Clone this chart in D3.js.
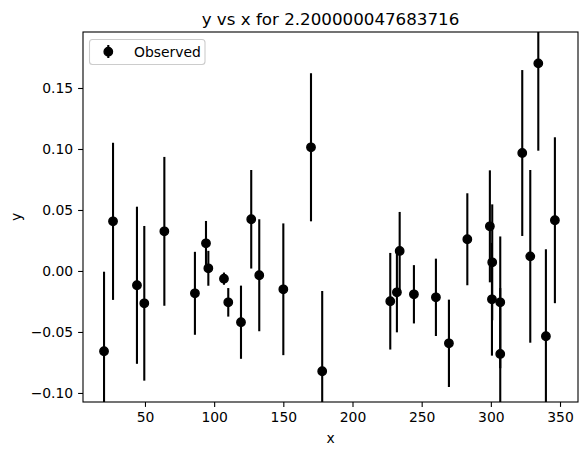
<!DOCTYPE html>
<html>
<head>
<meta charset="utf-8">
<style>
body { margin: 0; background: #fff; }
text { font-family: "DejaVu Sans", sans-serif; fill: #000; }
</style>
</head>
<body>
<script src="https://cdn.jsdelivr.net/npm/d3@7"></script>
<script>
// observed points
var xs = [20.4, 26.9, 44.2, 49.5, 64.0, 86.1, 94.1, 95.8, 107.1, 110.2, 119.4,
          126.8, 132.6, 150.0, 170.0, 178.1, 227.3, 232.1, 234.1, 244.4, 260.3,
          269.7, 283.0, 299.3, 301.0, 300.8, 306.8, 306.8, 322.7, 328.5, 334.3,
          339.8, 346.3];
var ys = [-0.0658, 0.0407, -0.0117, -0.0265, 0.0325, -0.0183, 0.0227, 0.0022,
          -0.0063, -0.0257, -0.042, 0.0424, -0.0035, -0.015, 0.1014, -0.0822,
          -0.0248, -0.0175, 0.0164, -0.0191, -0.0216, -0.0593, 0.026, 0.0366,
          0.0071, -0.0232, -0.0257, -0.068, 0.0967, 0.012, 0.1702, -0.0535, 0.0416];
var errs = [0.0652, 0.0644, 0.0644, 0.0634, 0.061, 0.034, 0.0183, 0.0143, 0.005,
            0.0117, 0.030, 0.0404, 0.0459, 0.054, 0.0607, 0.0658, 0.0396, 0.0328,
            0.032, 0.0239, 0.0317, 0.0358, 0.0377, 0.0459, 0.0475, 0.0462, 0.054,
            0.054, 0.068, 0.0708, 0.0716, 0.0713, 0.068];
var xTicks = [50, 100, 150, 200, 250, 300, 350];
var yTicks = [-0.10, -0.05, 0.00, 0.05, 0.10, 0.15];
var title = "y vs x for 2.200000047683716";

var width = 587, height = 455;
var margin = {top: 32, right: 9, bottom: 53, left: 83};

var svg = d3.select("body").append("svg")
    .attr("width", width)
    .attr("height", height);

var x = d3.scaleLinear().domain([5.2, 363]).range([margin.left, width - margin.right]);
var y = d3.scaleLinear().domain([-0.1074, 0.1959]).range([height - margin.bottom, margin.top]);

var pts = xs.map(function(d, i) { return {x: d, y: ys[i], e: errs[i]}; });

svg.append("clipPath").attr("id", "clip")
  .append("rect")
    .attr("x", margin.left).attr("y", margin.top)
    .attr("width", width - margin.left - margin.right)
    .attr("height", height - margin.top - margin.bottom);

var plot = svg.append("g").attr("clip-path", "url(#clip)");

plot.selectAll("line.err")
  .data(pts)
  .enter().append("line")
    .attr("class", "err")
    .attr("x1", function(d) { return x(d.x); })
    .attr("x2", function(d) { return x(d.x); })
    .attr("y1", function(d) { return y(d.y - d.e); })
    .attr("y2", function(d) { return y(d.y + d.e); })
    .attr("stroke", "#000")
    .attr("stroke-width", 2.1);

plot.selectAll("circle")
  .data(pts)
  .enter().append("circle")
    .attr("cx", function(d) { return x(d.x); })
    .attr("cy", function(d) { return y(d.y); })
    .attr("r", 4.2)
    .attr("fill", "#000")
    .attr("stroke", "#000")
    .attr("stroke-width", 1.4);

// axes
var xAxis = d3.axisBottom(x).tickValues(xTicks).tickSize(4.9).tickPadding(4.9)
    .tickFormat(d3.format("d"));
var yAxis = d3.axisLeft(y).tickValues(yTicks).tickSize(4.9).tickPadding(4.9)
    .tickFormat(d3.format(".2f"));

var gx = svg.append("g")
    .attr("transform", "translate(0," + (height - margin.bottom) + ")")
    .call(xAxis);
var gy = svg.append("g")
    .attr("transform", "translate(" + margin.left + ",0)")
    .call(yAxis);

[gx, gy].forEach(function(g) {
  g.select(".domain").remove();
  g.selectAll(".tick line").attr("stroke", "#000").attr("stroke-width", 1.1);
  g.selectAll(".tick text").style("font-size", "13.9px").attr("fill", "#000");
});

// frame
svg.append("rect")
    .attr("x", margin.left).attr("y", margin.top)
    .attr("width", width - margin.left - margin.right)
    .attr("height", height - margin.top - margin.bottom)
    .attr("fill", "none")
    .attr("stroke", "#000")
    .attr("stroke-width", 1.1);

svg.append("text")
    .attr("x", (margin.left + width - margin.right) / 2)
    .attr("y", 24.5)
    .attr("text-anchor", "middle")
    .style("font-size", "16.7px")
    .text(title);

svg.append("text")
    .attr("x", (margin.left + width - margin.right) / 2)
    .attr("y", 443)
    .attr("text-anchor", "middle")
    .style("font-size", "13.9px")
    .text("x");

svg.append("text")
    .attr("transform", "translate(21," + ((margin.top + height - margin.bottom) / 2) + ") rotate(-90)")
    .attr("text-anchor", "middle")
    .style("font-size", "13.9px")
    .text("y");

// legend
var legend = svg.append("g");
legend.append("rect")
    .attr("x", 89.5).attr("y", 39.5)
    .attr("width", 115.5).attr("height", 25)
    .attr("rx", 3)
    .attr("fill", "#fff").attr("fill-opacity", 0.8)
    .attr("stroke", "#ccc").attr("stroke-width", 1.1);
legend.append("line")
    .attr("x1", 108.3).attr("x2", 108.3)
    .attr("y1", 45).attr("y2", 58)
    .attr("stroke", "#000").attr("stroke-width", 2.1);
legend.append("circle")
    .attr("cx", 108.3).attr("cy", 51.7).attr("r", 4.2)
    .attr("fill", "#000").attr("stroke", "#000").attr("stroke-width", 1.4);
legend.append("text")
    .attr("x", 134).attr("y", 56.5)
    .style("font-size", "13.9px")
    .text("Observed");
</script>
</body>
</html>
